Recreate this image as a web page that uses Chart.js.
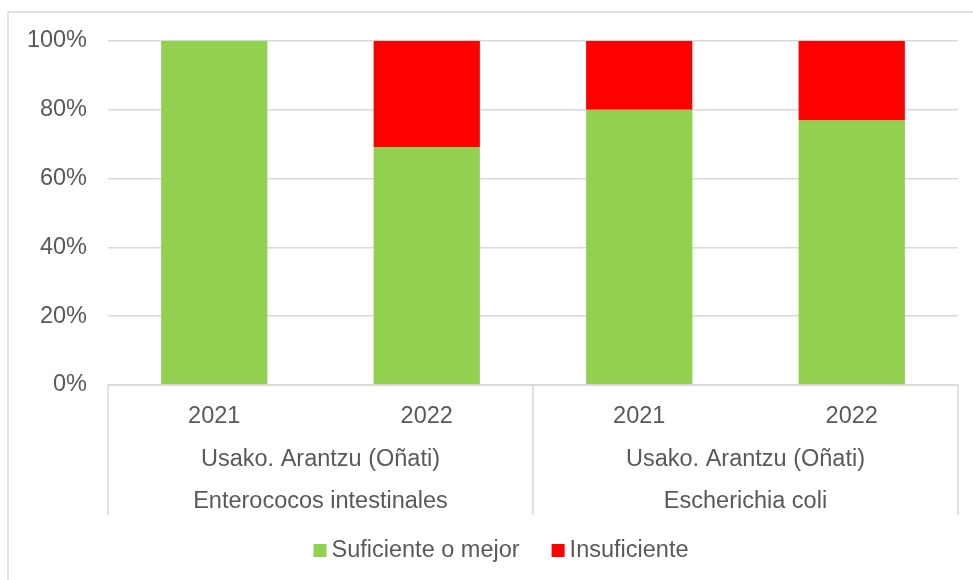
<!DOCTYPE html>
<html>
<head>
<meta charset="utf-8">
<script src="https://cdn.jsdelivr.net/npm/chart.js@4/dist/chart.umd.min.js"></script>
<style>
  html, body { margin: 0; padding: 0; background: #fff; }
  #wrap { width: 973px; height: 580px; position: relative; }
</style>
</head>
<body>
<div id="wrap"><canvas id="chart"></canvas></div>
<script>
const years = ["2021", "2022", "2021", "2022"]
const locations = ["Usako. Arantzu (Oñati)", "Usako. Arantzu (Oñati)"]
const parameters = ["Enterococos intestinales", "Escherichia coli"]
const suficiente = [100, 69.2, 80, 76.9]
const insuficiente = [0, 30.8, 20, 23.1]

const FONT = "'Liberation Sans', Arial, sans-serif"
const TEXT = "#595959"
const LINE = "#d9d9d9"
const SIZE = 23.5

// group lines, group labels, frame and legend
const extras = {
  id: "extras",
  afterDraw(chart) {
    const ctx = chart.ctx
    const x = chart.scales.x
    const area = chart.chartArea
    ctx.save()
    ctx.strokeStyle = LINE
    ctx.lineWidth = 1.5
    ctx.beginPath()
    ctx.moveTo(8, 12); ctx.lineTo(973, 12)
    ctx.moveTo(8, 12); ctx.lineTo(8, 580)
    ctx.moveTo(area.left, area.bottom); ctx.lineTo(area.right, area.bottom)
    const half = (x.getPixelForValue(1) - x.getPixelForValue(0)) / 2
    const edges = [area.left]
    for (let g = 0; g < parameters.length; g++) {
      edges.push(x.getPixelForValue(g * 2 + 1) + half)
    }
    edges.forEach(e => {
      ctx.moveTo(e, area.bottom); ctx.lineTo(e, 515)
    })
    ctx.stroke()

    ctx.fillStyle = TEXT
    ctx.font = SIZE + "px " + FONT
    ctx.textAlign = "center"
    ctx.textBaseline = "middle"
    for (let g = 0; g < parameters.length; g++) {
      const cx = (x.getPixelForValue(g * 2) + x.getPixelForValue(g * 2 + 1)) / 2
      ctx.fillText(locations[g], cx, 460)
      ctx.fillText(parameters[g], cx, 502)
    }

    // legend
    const items = chart.data.datasets.map(d => ({ text: d.label, color: d.backgroundColor }))
    const widths = items.map(it => ctx.measureText(it.text).width)
    const total = widths.reduce((a, w) => a + w + 18, 0) + 32 * (items.length - 1)
    let lx = 501 - total / 2
    ctx.textAlign = "left"
    items.forEach((it, i) => {
      ctx.fillStyle = it.color
      ctx.fillRect(lx, 544, 13, 13)
      ctx.fillStyle = TEXT
      ctx.fillText(it.text, lx + 18, 551)
      lx += 18 + widths[i] + 32
    })
    ctx.restore()
  },
}

new Chart(document.getElementById("chart"), {
  type: "bar",
  data: {
    labels: years,
    datasets: [
      { label: "Suficiente o mejor", data: suficiente, backgroundColor: "#92d050" },
      { label: "Insuficiente", data: insuficiente, backgroundColor: "#ff0000" },
    ],
  },
  options: {
    responsive: true,
    maintainAspectRatio: false,
    animation: false,
    barPercentage: 0.5,
    categoryPercentage: 1.0,
    layout: { autoPadding: false, padding: { left: 8, top: 41, right: 15, bottom: 0 } },
    plugins: {
      legend: { display: false },
      tooltip: { enabled: false },
    },
    scales: {
      x: {
        stacked: true,
        grid: { display: false },
        border: { display: false },
        ticks: { color: TEXT, font: { family: FONT, size: SIZE }, padding: 9, maxRotation: 0 },
        afterFit: s => { s.height = 580 - 385 },
      },
      y: {
        stacked: true,
        min: 0,
        max: 100,
        grid: { color: LINE, lineWidth: 1.5, drawTicks: false },
        border: { display: false },
        ticks: {
          stepSize: 20,
          color: TEXT,
          font: { family: FONT, size: SIZE },
          padding: 21,
          callback: v => v + "%",
        },
        afterFit: s => { s.width = 100 },
      },
    },
  },
  plugins: [extras],
})
</script>
</body>
</html>
